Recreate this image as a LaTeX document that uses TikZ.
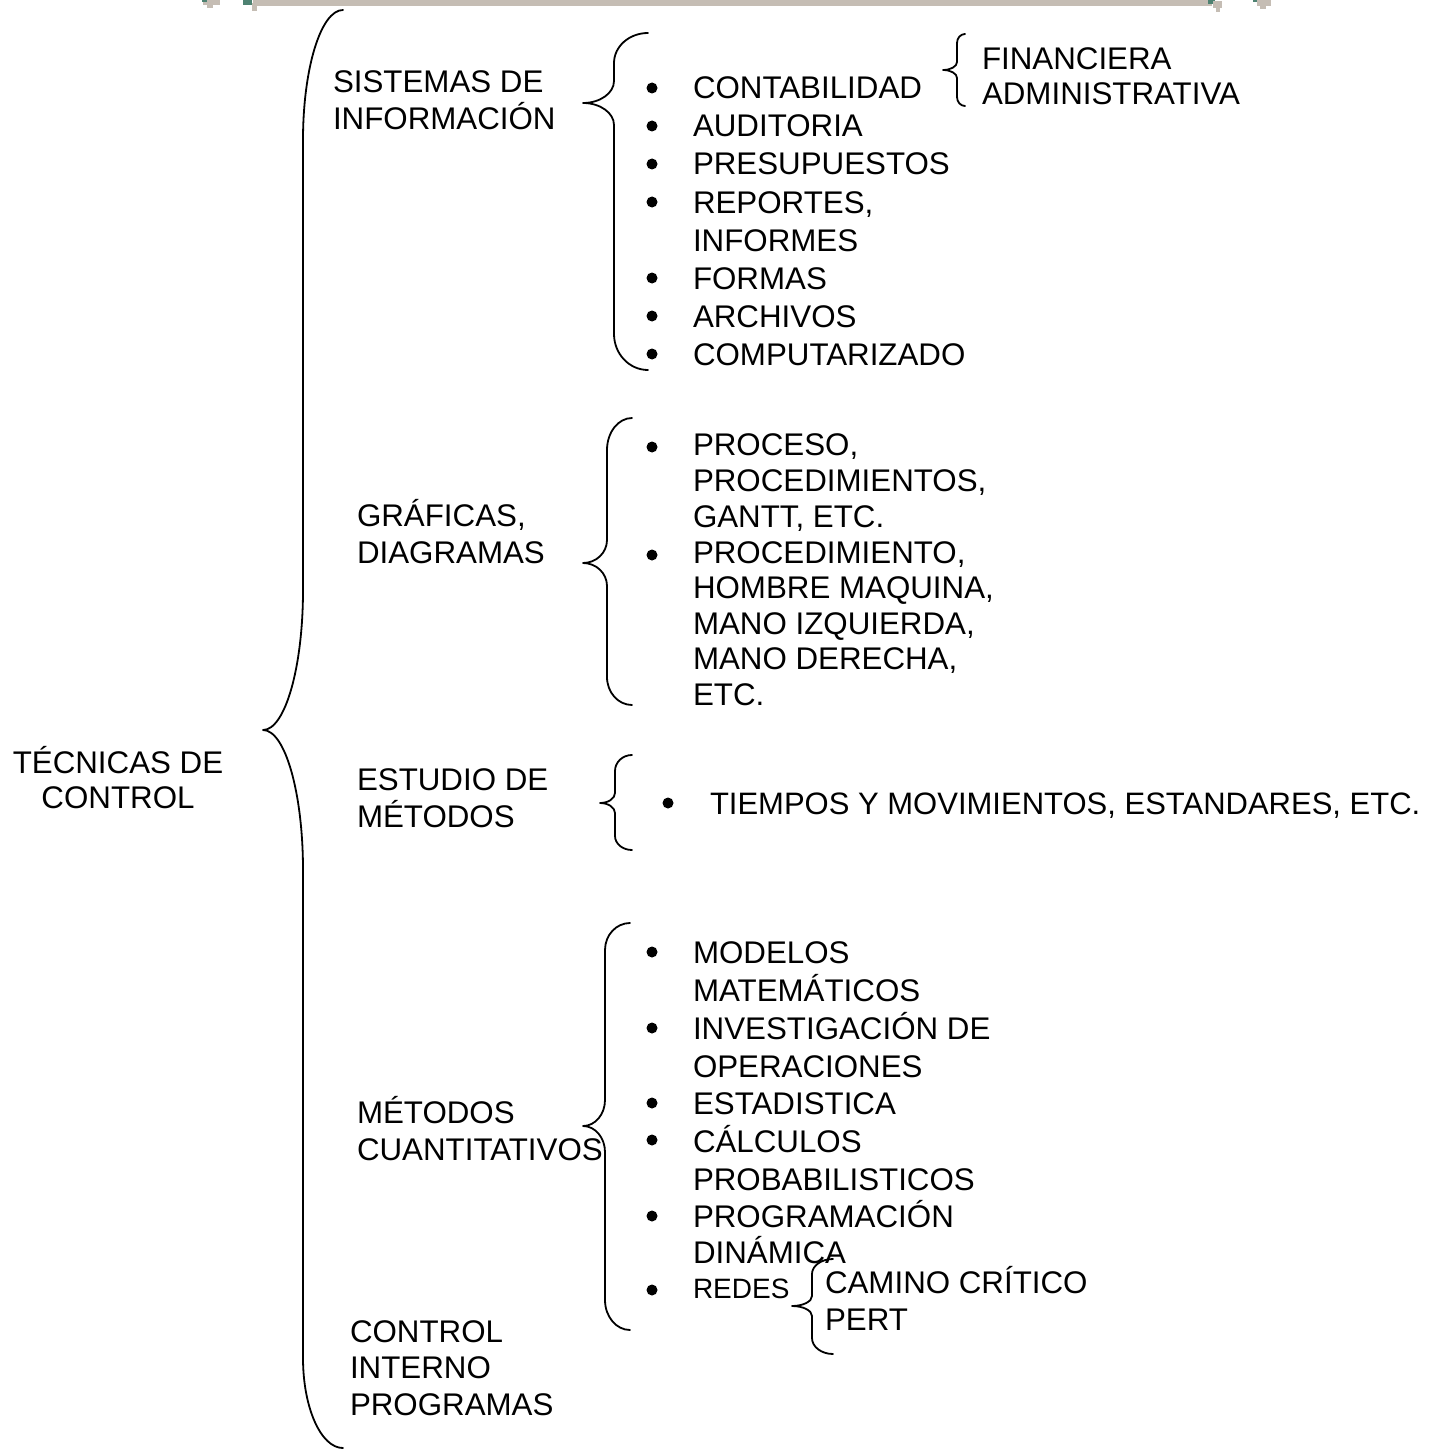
\documentclass[tikz,border=0pt]{standalone}
\usepackage{fontspec}
\setmainfont{Liberation Sans}
\definecolor{barcol}{HTML}{C5BDB4}
\definecolor{tealcol}{HTML}{4E8272}
% #1 xend, #2 xv, #3 xtip, #4 ytop, #5 ytip, #6 ybot, #7 rtop, #8 rtip, #9 rbot
\newcommand\wbrace[9]{%
  \draw[bracestyle] (#1,#4) .. controls ({#1-0.552*(#1-#2)},#4) and (#2,{#4+0.448*#7}) .. (#2,{#4+#7})
   -- (#2,{#5-#8}) .. controls (#2,{#5-0.448*#8}) and ({#3+0.552*(#2-#3)},#5) .. (#3,#5)
   .. controls ({#3+0.552*(#2-#3)},#5) and (#2,{#5+0.448*#8}) .. (#2,{#5+#8})
   -- (#2,{#6-#9}) .. controls (#2,{#6-0.448*#9}) and ({#1-0.552*(#1-#2)},#6) .. (#1,#6);}
\newcommand\bdot[2]{\fill (#1,#2) circle (5.5pt);}
\begin{document}
\begin{tikzpicture}[x=1pt,y=-1pt,
  lbl/.style={inner sep=0pt,outer sep=0pt,align=left,anchor=base west,font=\fontsize{31.3}{38}\selectfont},
  bracestyle/.style={line width=1.8pt,line cap=round,line join=round}]
\useasboundingbox (0,0) rectangle (1432,1450);
% top decoration
\fill[barcol] (253,0.5) rectangle (1212,6.5);
\fill[barcol] (203,0) rectangle (220,5);
\fill[barcol] (207,5) rectangle (213,8);
\fill[tealcol] (202,0) rectangle (207,2);
\fill[tealcol] (243,0) rectangle (252,5);
\fill[barcol] (252,3) rectangle (257,11);
\fill[tealcol] (1208,0) rectangle (1215,4);
\fill[barcol] (1213,1) rectangle (1222,8);
\fill[barcol] (1216,8) rectangle (1220,12);
\fill[tealcol] (1253,0) rectangle (1259,2);
\fill[barcol] (1257,0) rectangle (1271,6);
\fill[barcol] (1260,6) rectangle (1266,9);
% (multi-line nodes: base anchor = baseline of the last line)
% root
\node[lbl,align=center,anchor=base,font=\fontsize{31.3}{35}\selectfont] (tec) at (118,808) {TÉCNICAS DE\\CONTROL};
\wbrace{343}{303}{263}{10}{730}{1448}{130}{140}{90}
% sistemas de informacion
\node[lbl,font=\fontsize{31.3}{37}\selectfont] (sis) at (333,130) {SISTEMAS DE\\INFORMACIÓN};
\wbrace{648}{614}{583}{33}{103}{370}{30}{22}{36}
\node[lbl] (conta) at (693,99) {CONTABILIDAD}; \bdot{652}{88}
\node[lbl] (audi) at (693,137) {AUDITORIA}; \bdot{652}{126}
\node[lbl] (presu) at (693,175) {PRESUPUESTOS}; \bdot{652}{164}
\node[lbl] (repo) at (693,251) {REPORTES,\\INFORMES}; \bdot{652}{202}
\node[lbl] (formas) at (693,289) {FORMAS}; \bdot{652}{278}
\node[lbl] (arch) at (693,327) {ARCHIVOS}; \bdot{652}{316}
\node[lbl] (comp) at (693,365) {COMPUTARIZADO}; \bdot{652}{354}
\wbrace{965}{957}{943}{34}{70}{106}{9}{8}{9}
\node[lbl,font=\fontsize{31.3}{35}\selectfont] (fin) at (982,105) {FINANCIERA\\ADMINISTRATIVA};
% graficas
\node[lbl,font=\fontsize{31.3}{37}\selectfont] (gra) at (357,563) {GRÁFICAS,\\DIAGRAMAS};
\wbrace{632}{607}{583}{418}{563}{705}{32}{23}{28}
\node[lbl,font=\fontsize{31.3}{36}\selectfont] (proc) at (693,527) {PROCESO,\\PROCEDIMIENTOS,\\GANTT, ETC.}; \bdot{652}{447}
\node[lbl,font=\fontsize{31.3}{35.5}\selectfont] (procd) at (693,705) {PROCEDIMIENTO,\\HOMBRE MAQUINA,\\MANO IZQUIERDA,\\MANO DERECHA,\\ETC.}; \bdot{652}{555}
% estudio de metodos
\node[lbl,font=\fontsize{31.3}{37}\selectfont] (est) at (357,827) {ESTUDIO DE\\MÉTODOS};
\wbrace{632}{615}{600}{755}{803}{850}{16}{10}{14}
\node[lbl,font=\fontsize{31}{38}\selectfont] (tiem) at (710,814) {TIEMPOS Y MOVIMIENTOS, ESTANDARES, ETC.}; \bdot{668}{803}
% metodos cuantitativos
\node[lbl,font=\fontsize{31.3}{37}\selectfont] (met) at (357,1160) {MÉTODOS\\CUANTITATIVOS};
\wbrace{630}{605}{583}{923}{1126}{1330}{27}{26}{30}
\node[lbl] (mode) at (693,1001) {MODELOS\\MATEMÁTICOS}; \bdot{652}{952}
\node[lbl] (inve) at (693,1077) {INVESTIGACIÓN DE\\OPERACIONES}; \bdot{652}{1028}
\node[lbl] (esta) at (693,1114) {ESTADISTICA}; \bdot{652}{1103}
\node[lbl] (calc) at (693,1190) {CÁLCULOS\\PROBABILISTICOS}; \bdot{652}{1140}
\node[lbl,font=\fontsize{31.3}{36}\selectfont] (prog) at (693,1263) {PROGRAMACIÓN\\DINÁMICA}; \bdot{652}{1216}
\node[lbl,font=\fontsize{28}{34}\selectfont] (redes) at (693,1298) {REDES}; \bdot{652}{1290}
\wbrace{833}{812}{792}{1259}{1306}{1354}{15}{10}{16}
\node[lbl,font=\fontsize{31.3}{37}\selectfont] (cam) at (825,1330) {CAMINO CRÍTICO\\PERT};
% control interno
\node[lbl,font=\fontsize{31.3}{36.5}\selectfont] (cint) at (350,1415) {CONTROL\\INTERNO\\PROGRAMAS};
\end{tikzpicture}
\end{document}
